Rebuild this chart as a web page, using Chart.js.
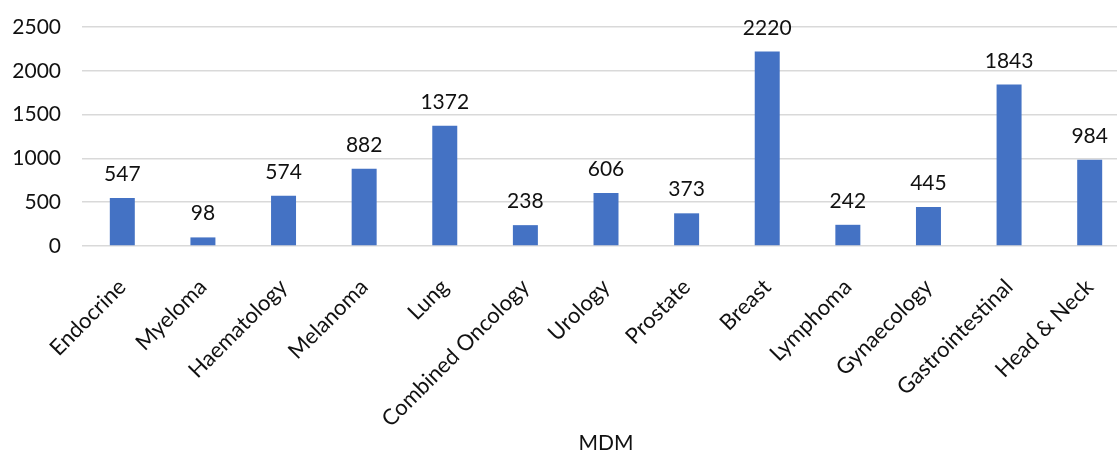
<!DOCTYPE html>
<html>
<head>
<meta charset="utf-8">
<script src="https://cdn.jsdelivr.net/npm/chart.js@4.4.3/dist/chart.umd.min.js"></script>
<style>
    html, body { margin: 0; padding: 0; background: #fff; overflow: hidden; }
    #wrap { width: 1130px; height: 457px; position: relative; }
</style>
</head>
<body>
<div id="wrap"><canvas id="chart"></canvas></div>
<script>
const categories = ['Endocrine', 'Myeloma', 'Haematology', 'Melanoma', 'Lung', 'Combined Oncology',
    'Urology', 'Prostate', 'Breast', 'Lymphoma', 'Gynaecology', 'Gastrointestinal', 'Head & Neck'];
const counts = [547, 98, 574, 882, 1372, 238, 606, 373, 2220, 242, 445, 1843, 984];
const yTicks = [0, 500, 1000, 1500, 2000, 2500];

const fontFamily = 'Lato, "Open Sans", sans-serif';
const textColor = '#111';

// writes each bar's value just above it
const valueLabels = {
    id: 'valueLabels',
    afterDatasetsDraw(chart) {
        const ctx = chart.ctx;
        const meta = chart.getDatasetMeta(0);
        ctx.save();
        ctx.font = `21px ${fontFamily}`;
        ctx.fillStyle = textColor;
        ctx.textAlign = 'center';
        ctx.textBaseline = 'alphabetic';
        meta.data.forEach((bar, i) => {
            ctx.fillText(String(chart.data.datasets[0].data[i]), bar.x, bar.y - 17);
        });
        ctx.restore();
    }
};

new Chart(document.getElementById('chart'), {
    type: 'bar',
    data: {
        labels: categories,
        datasets: [{
            data: counts,
            backgroundColor: '#4472C4',
            barPercentage: 0.31,
            categoryPercentage: 1
        }]
    },
    options: {
        responsive: true,
        maintainAspectRatio: false,
        animation: false,
        layout: { padding: { top: 27, left: 0, right: 0, bottom: 1 } },
        plugins: {
            legend: { display: false },
            tooltip: { enabled: false }
        },
        scales: {
            x: {
                grid: { display: false },
                border: { display: false },
                ticks: {
                    minRotation: 45,
                    maxRotation: 45,
                    autoSkip: false,
                    color: textColor,
                    padding: 20,
                    font: { size: 22, family: fontFamily }
                },
                title: {
                    display: true,
                    text: 'MDM',
                    color: textColor,
                    font: { size: 21, family: fontFamily },
                    padding: { top: 0, bottom: 0 }
                },
                afterFit(scale) { scale.height = 457 - 246 - 1; }
            },
            y: {
                min: 0,
                max: 2500,
                afterBuildTicks(scale) { scale.ticks = yTicks.map(v => ({ value: v })); },
                grid: { color: '#d9d9d9', lineWidth: 1.5, drawTicks: false },
                border: { display: false },
                ticks: {
                    color: textColor,
                    padding: 21,
                    font: { size: 21, family: fontFamily },
                    callback: v => String(v)
                },
                afterFit(scale) {
                    scale.width = 82;
                    // tick padding shouldn't push the plot area down
                    scale.paddingTop = 12;
                    scale.paddingBottom = 12;
                }
            }
        }
    },
    plugins: [valueLabels]
});
</script>
</body>
</html>
